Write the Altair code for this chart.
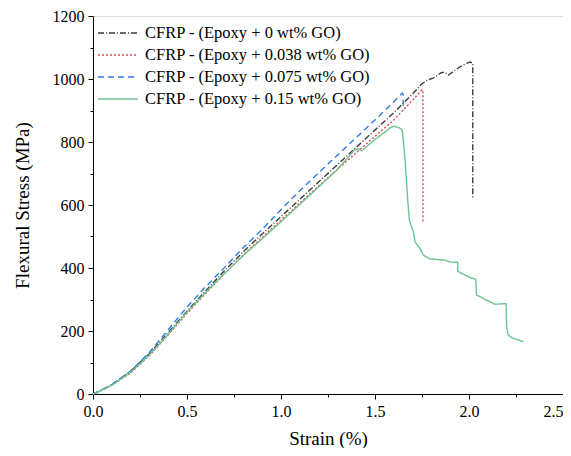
import altair as alt
import pandas as pd

series_names = [
    "CFRP - (Epoxy + 0 wt% GO)",
    "CFRP - (Epoxy + 0.038 wt% GO)",
    "CFRP - (Epoxy + 0.075 wt% GO)",
    "CFRP - (Epoxy + 0.15 wt% GO)",
]
colors = ["#3d3d3d", "#e8474a", "#2b7ce6", "#6cc592"]
dashes = [[6, 2, 1, 2], [2, 2], [6, 4], [1, 0]]

s0_x = [0, 0.05, 0.1, 0.2, 0.3, 0.4, 0.5, 0.6, 0.7, 0.8, 0.9, 1.0, 1.1, 1.2, 1.3, 1.4, 1.5, 1.6, 1.7,
        1.75, 1.78, 1.81, 1.85, 1.87, 1.89, 1.92, 1.95, 1.98, 2.005, 2.02, 2.02]
s0_y = [0, 12, 30, 72, 128, 195, 263, 328, 392, 452, 508, 563, 618, 673, 728, 783, 838, 893, 953,
        985, 997, 1003, 1019, 1022, 1012, 1025, 1038, 1048, 1054, 1050, 622]

s1_x = [0, 0.1, 0.2, 0.3, 0.4, 0.5, 0.6, 0.7, 0.8, 0.9, 1.0, 1.1, 1.2, 1.3, 1.4, 1.5, 1.6, 1.7,
        1.75, 1.755, 1.755]
s1_y = [0, 28, 67, 122, 188, 256, 320, 382, 442, 497, 552, 606, 660, 713, 766, 818, 870, 933,
        965, 965, 545]

s2_x = [0, 0.1, 0.2, 0.3, 0.4, 0.5, 0.6, 0.7, 0.8, 0.9, 1.0, 1.1, 1.2, 1.3, 1.4, 1.5, 1.6,
        1.645, 1.65, 1.65]
s2_y = [0, 30, 73, 132, 204, 276, 341, 402, 465, 523, 585, 645, 702, 758, 814, 870, 928,
        955, 950, 900]

s3_x = [0, 0.1, 0.2, 0.3, 0.4, 0.5, 0.6, 0.7, 0.8, 0.9, 1.0, 1.1, 1.2, 1.3, 1.37, 1.39, 1.41,
        1.43, 1.45, 1.5, 1.55, 1.58, 1.6, 1.63, 1.645, 1.66, 1.674, 1.683, 1.704, 1.713, 1.739,
        1.757, 1.793, 1.872, 1.899, 1.94, 1.94, 1.961, 2.005, 2.036, 2.04, 2.059, 2.085, 2.112,
        2.138, 2.197, 2.2, 2.209, 2.227, 2.289]
s3_y = [0, 28, 69, 124, 190, 260, 323, 383, 440, 493, 547, 602, 657, 713, 760, 775, 778,
        772, 783, 808, 830, 845, 850, 845, 838, 743, 616, 552, 515, 483, 462,
        441, 429, 425, 419, 418, 390, 383, 370, 364, 314, 309, 300, 293,
        285, 287, 214, 187, 179, 166]

x_ticks = [0, 0.25, 0.5, 0.75, 1.0, 1.25, 1.5, 1.75, 2.0, 2.25, 2.5]
y_ticks = [0, 100, 200, 300, 400, 500, 600, 700, 800, 900, 1000, 1100, 1200]

rows = []
for name, xs, ys in zip(series_names, [s0_x, s1_x, s2_x, s3_x], [s0_y, s1_y, s2_y, s3_y]):
    for i, (xv, yv) in enumerate(zip(xs, ys)):
        rows.append({"series": name, "order": i, "strain": xv, "stress": yv})
df = pd.DataFrame(rows)

FONT = "Liberation Serif"

legend_kw = dict(title=None, orient="none", legendX=4, legendY=6,
                 symbolType="M-1,0L3,0", symbolSize=400,
                 symbolStrokeWidth=1.4, labelOffset=26,
                 labelFont=FONT, labelFontSize=16.5, labelColor="black",
                 labelLimit=400, rowPadding=2, padding=0)

chart = alt.Chart(df).mark_line(strokeWidth=1.4).encode(
    x=alt.X("strain:Q", title="Strain (%)",
            scale=alt.Scale(domain=[0, 2.5], nice=False),
            axis=alt.Axis(values=x_ticks,
                          labelExpr="datum.value % 0.5 == 0 ? format(datum.value, '.1f') : ''",
                          tickSize={"condition": {"test": "datum.value % 0.5 == 0", "value": 5}, "value": 3},
                          labelAlign={"condition": {"test": "datum.value >= 2.5", "value": "right"}, "value": "center"},
                          grid=False, domainColor="black", tickColor="black",
                          labelFont=FONT, labelFontSize=16, labelColor="black", labelPadding=4,
                          titleFont=FONT, titleFontSize=19, titleFontWeight="normal",
                          titleColor="black", titlePadding=10, labelFlush=False)),
    y=alt.Y("stress:Q", title="Flexural Stress (MPa)",
            scale=alt.Scale(domain=[0, 1200], nice=False),
            axis=alt.Axis(values=y_ticks,
                          labelExpr="datum.value % 200 == 0 ? format(datum.value, 'd') : ''",
                          tickSize={"condition": {"test": "datum.value % 200 == 0", "value": 5}, "value": 3},
                          grid=False, domainColor="black", tickColor="black",
                          labelFont=FONT, labelFontSize=16, labelColor="black", labelPadding=4,
                          titleFont=FONT, titleFontSize=19, titleFontWeight="normal",
                          titleColor="black", titlePadding=20, labelFlush=False)),
    color=alt.Color("series:N", sort=series_names,
                    scale=alt.Scale(domain=series_names, range=colors),
                    legend=alt.Legend(**legend_kw)),
    strokeDash=alt.StrokeDash("series:N", sort=series_names,
                              scale=alt.Scale(domain=series_names, range=dashes),
                              legend=alt.Legend(**legend_kw)),
    order="order:Q",
).properties(
    width=470, height=378,
    autosize=alt.AutoSizeParams(type="none"),
    padding={"left": 85, "top": 8, "right": 0, "bottom": 54},
).configure_view(stroke=None).configure(background="white")

chart.save("out.html", embed_options={"renderer": "svg", "actions": False})
